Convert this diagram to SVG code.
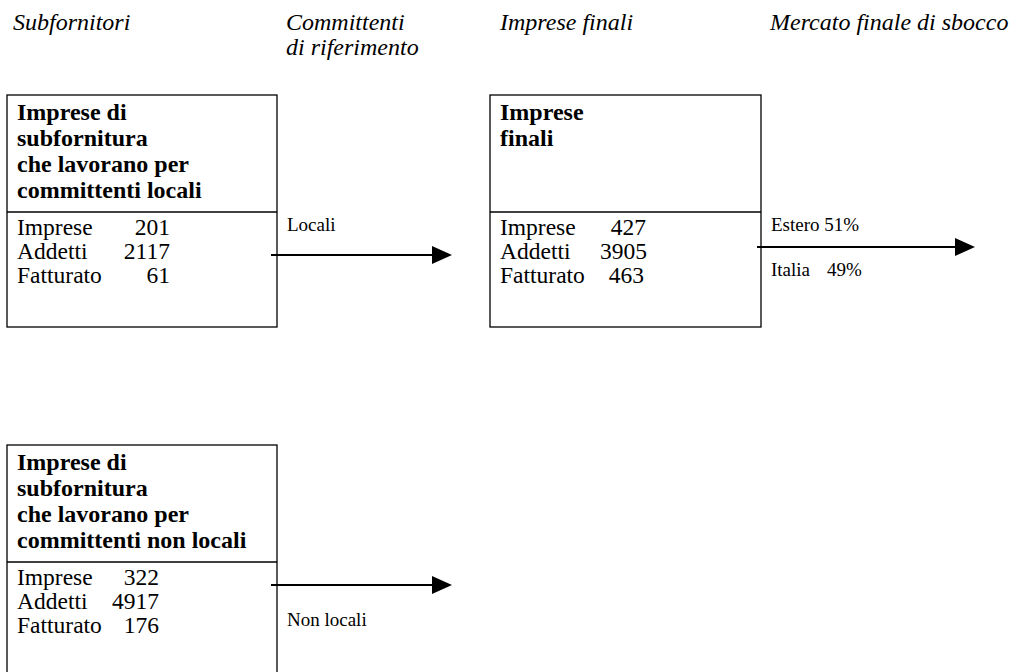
<svg xmlns="http://www.w3.org/2000/svg" width="1022" height="672" viewBox="0 0 1022 672">
<defs>
<style>
text{font-family:'Liberation Serif','Tinos','DejaVu Serif',serif;fill:#000}
.hdr{font-style:italic;font-size:24px}
.ttl{font-weight:bold;font-size:24px}
.dat{font-size:23.5px}
.lbl{font-size:19px}
.box{fill:#fff;stroke:#000;stroke-width:1.3}
.div{stroke:#000;stroke-width:1.3}
.arr{stroke:#000;stroke-width:2;fill:none}
</style>
<marker id="ah" viewBox="0 0 20 18" refX="8" refY="9" markerWidth="20" markerHeight="18" markerUnits="userSpaceOnUse" orient="auto">
<path d="M0,0 L20,9 L0,18 z" fill="#000"/>
</marker>
</defs>
<rect width="1022" height="672" fill="#fff"/>
<g id="headers">
<text class="hdr" x="13" y="30">Subfornitori</text>
<text class="hdr" x="286" y="30">Committenti</text>
<text class="hdr" x="286" y="55">di riferimento</text>
<text class="hdr" x="500" y="30">Imprese finali</text>
<text class="hdr" x="770" y="30">Mercato finale di sbocco</text>
</g>
<g id="sub-locali">
<rect class="box" x="7" y="95" width="270" height="232"/>
<line class="div" x1="7" y1="212" x2="277" y2="212"/>
<text class="ttl" x="17" y="120">Imprese di</text>
<text class="ttl" x="17" y="146">subfornitura</text>
<text class="ttl" x="17" y="172">che lavorano per</text>
<text class="ttl" x="17" y="198">committenti locali</text>
<text class="dat" x="17" y="235">Imprese</text>
<text class="dat" x="170" y="235" text-anchor="end">201</text>
<text class="dat" x="17" y="259">Addetti</text>
<text class="dat" x="170" y="259" text-anchor="end">2117</text>
<text class="dat" x="17" y="283">Fatturato</text>
<text class="dat" x="170" y="283" text-anchor="end">61</text>
</g>
<g id="finali">
<rect class="box" x="490" y="95" width="271" height="232"/>
<line class="div" x1="490" y1="212" x2="761" y2="212"/>
<text class="ttl" x="500" y="120">Imprese</text>
<text class="ttl" x="500" y="146">finali</text>
<text class="dat" x="500" y="235">Imprese</text>
<text class="dat" x="646" y="235" text-anchor="end">427</text>
<text class="dat" x="500" y="259">Addetti</text>
<text class="dat" x="647" y="259" text-anchor="end">3905</text>
<text class="dat" x="500" y="283">Fatturato</text>
<text class="dat" x="644" y="283" text-anchor="end">463</text>
</g>
<g id="sub-nonlocali">
<rect class="box" x="7" y="445" width="270" height="240"/>
<line class="div" x1="7" y1="562" x2="277" y2="562"/>
<text class="ttl" x="17" y="470">Imprese di</text>
<text class="ttl" x="17" y="496">subfornitura</text>
<text class="ttl" x="17" y="522">che lavorano per</text>
<text class="ttl" x="17" y="548">committenti non locali</text>
<text class="dat" x="17" y="585">Imprese</text>
<text class="dat" x="159" y="585" text-anchor="end">322</text>
<text class="dat" x="17" y="609">Addetti</text>
<text class="dat" x="159" y="609" text-anchor="end">4917</text>
<text class="dat" x="17" y="633">Fatturato</text>
<text class="dat" x="159" y="633" text-anchor="end">176</text>
</g>
<g id="connectors">
<line class="arr" x1="271" y1="255" x2="440" y2="255" marker-end="url(#ah)"/>
<line class="arr" x1="757" y1="247" x2="963" y2="247" marker-end="url(#ah)"/>
<line class="arr" x1="271" y1="585" x2="440" y2="585" marker-end="url(#ah)"/>
<text class="lbl" x="287" y="231">Locali</text>
<text class="lbl" x="771" y="231">Estero 51%</text>
<text class="lbl" x="771" y="276">Italia<tspan x="827">49%</tspan></text>
<text class="lbl" x="287" y="626">Non locali</text>
</g>
</svg>
